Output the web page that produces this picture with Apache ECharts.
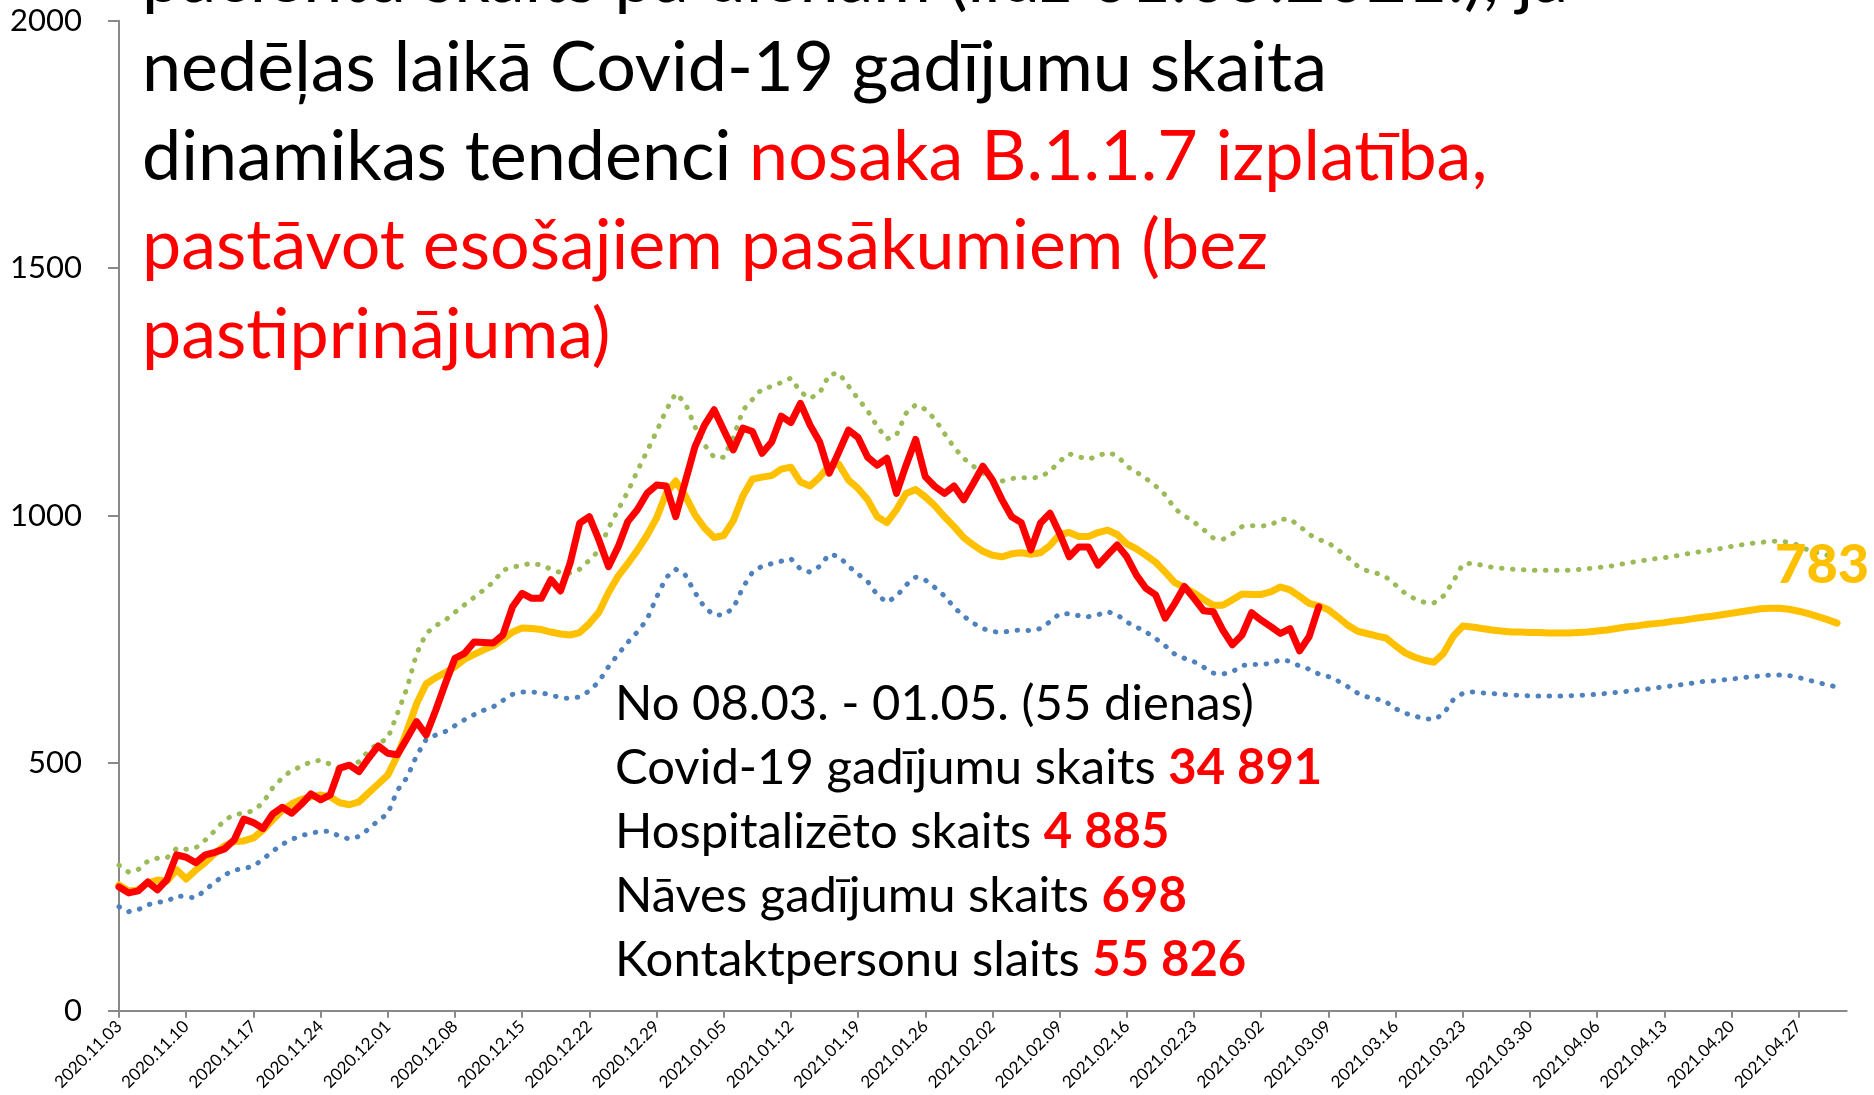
<!DOCTYPE html>
<html>
<head>
<meta charset="utf-8">
<script src="https://cdn.jsdelivr.net/npm/echarts@6.0.0/dist/echarts.min.js"></script>
<style>
html, body { margin: 0; padding: 0; background: #fff; }
#main { width: 1874px; height: 1095px; }
</style>
</head>
<body>
<div id="main"></div>
<script>
// dienas no 2020.11.03 līdz 2021.05.02
var dates = [];
(function () {
    var d = new Date(2020, 10, 3);
    for (var i = 0; i < 181; i++) {
        var m = d.getMonth() + 1, dd = d.getDate();
        dates.push(d.getFullYear() + '.' + (m < 10 ? '0' + m : m) + '.' + (dd < 10 ? '0' + dd : dd));
        d.setDate(d.getDate() + 1);
    }
})();

// faktiskie dati (sarkanā līnija)
var actual = [
    250, 238, 242, 260, 244, 265, 315, 310, 299, 315,
    320, 327, 345, 387, 380, 368, 397, 411, 399, 417,
    438, 426, 436, 490, 496, 483, 510, 535, 520, 517,
    550, 584, 557, 607, 661, 712, 722, 745, 744, 743,
    759, 816, 843, 833, 833, 871, 848, 904, 985, 998,
    951, 897, 937, 988, 1012, 1045, 1062, 1060, 998, 1069,
    1139, 1183, 1214, 1173, 1133, 1177, 1170, 1126, 1149, 1201,
    1188, 1227, 1183, 1149, 1086, 1129, 1173, 1158, 1118, 1102,
    1116, 1045, 1102, 1154, 1079, 1059, 1045, 1060, 1032, 1065,
    1100, 1072, 1032, 998, 986, 931, 985, 1005, 964, 917,
    937, 937, 900, 921, 941, 917, 880, 853, 840, 793,
    823, 857, 833, 808, 806, 769, 739, 759, 804, 789,
    776, 762, 772, 727, 756, 816
];

// modelis / prognoze (dzeltenā)
var forecast = [
    254, 242, 244, 258, 264, 262, 285, 266, 284, 300,
    318, 333, 342, 343, 349, 365, 385, 405, 418, 427,
    432, 436, 432, 420, 416, 422, 440, 458, 476, 515,
    565, 620, 660, 673, 683, 695, 710, 720, 729, 737,
    750, 765, 773, 772, 770, 765, 761, 759, 764, 782,
    805, 845, 878, 903, 930, 960, 995, 1045, 1070, 1040,
    1002, 975, 956, 960, 990, 1040, 1074, 1078, 1081, 1094,
    1098, 1068, 1060, 1078, 1102, 1104, 1072, 1055, 1032, 998,
    986, 1012, 1045, 1053, 1038, 1020, 998, 978, 956, 941,
    928, 920, 917, 923, 925, 922, 925, 940, 962, 966,
    958, 958, 966, 971, 962, 943, 933, 920, 906, 886,
    865, 855, 844, 831, 819, 819, 830, 842, 841, 841,
    846, 856, 850, 837, 823, 818, 810, 795, 779, 767,
    762, 757, 753, 737, 723, 714, 708, 704, 722, 756,
    777, 775, 772, 769, 767, 765, 765, 764, 764, 763,
    763, 763, 764, 765, 767, 769, 772, 775, 777, 780,
    782, 784, 787, 789, 792, 795, 797, 800, 803, 806,
    809, 812, 813, 813, 811, 807, 802, 796, 790, 783
];

// augšējā robeža (zaļā punktotā)
var upper = [
    294, 280, 285, 302, 308, 309, 328, 326, 329, 345,
    364, 385, 396, 399, 404, 420, 450, 470, 486, 493,
    503, 506, 498, 487, 495, 503, 525, 540, 550, 600,
    651, 721, 762, 778, 789, 805, 820, 835, 850, 866,
    890, 896, 900, 904, 900, 892, 885, 884, 892, 910,
    930, 975, 1012, 1048, 1090, 1130, 1170, 1213, 1247, 1228,
    1180, 1143, 1118, 1118, 1158, 1213, 1235, 1256, 1261, 1269,
    1278, 1250, 1237, 1248, 1285, 1288, 1262, 1236, 1212, 1180,
    1155, 1163, 1207, 1224, 1215, 1195, 1166, 1138, 1116, 1100,
    1086, 1072, 1070, 1075, 1077, 1076, 1078, 1090, 1110, 1125,
    1119, 1114, 1121, 1128, 1121, 1100, 1088, 1075, 1060, 1042,
    1014, 1000, 987, 972, 955, 952, 963, 978, 980, 979,
    981, 993, 993, 979, 962, 952, 945, 931, 916, 899,
    889, 884, 876, 860, 843, 832, 825, 824, 838, 867,
    902, 904, 900, 896, 894, 892, 891, 890, 890, 890,
    890, 890, 891, 893, 895, 897, 900, 904, 907, 910,
    913, 915, 918, 922, 925, 928, 931, 934, 938, 941,
    944, 946, 948, 949, 946, 940, 930, 925, 920, 916
];

// apakšējā robeža (zilā punktotā)
var lower = [
    210, 200, 204, 214, 219, 221, 232, 230, 228, 244,
    260, 274, 284, 287, 292, 306, 322, 336, 346, 354,
    358, 363, 362, 352, 347, 352, 367, 384, 398, 445,
    471, 515, 548, 557, 564, 576, 588, 598, 607, 614,
    627, 639, 644, 644, 642, 638, 632, 631, 634, 646,
    665, 695, 720, 744, 765, 790, 835, 875, 892, 880,
    845, 815, 799, 800, 813, 855, 886, 898, 903, 908,
    913, 892, 886, 898, 922, 918, 898, 882, 867, 840,
    825, 837, 860, 876, 870, 855, 838, 815, 797, 783,
    772, 766, 764, 768, 769, 768, 772, 786, 802, 802,
    798, 796, 800, 806, 800, 785, 775, 765, 752, 737,
    720, 712, 705, 694, 682, 680, 685, 697, 700, 699,
    702, 709, 706, 696, 690, 680, 675, 666, 655, 642,
    634, 630, 624, 610, 601, 595, 590, 588, 600, 628,
    641, 644, 642, 641, 639, 638, 637, 636, 636, 636,
    636, 636, 637, 638, 639, 641, 643, 645, 648, 649,
    652, 654, 657, 659, 662, 665, 666, 668, 670, 672,
    675, 676, 678, 678, 677, 673, 668, 663, 658, 654
];

var yTicks = [0, 500, 1000, 1500, 2000];

var font = 'Lato, "Open Sans", sans-serif';
var axisGray = '#898989';

// pēdējam prognozes punktam - vērtības etiķete
var forecastData = forecast.map(function (v, i) {
    if (i === forecast.length - 1) {
        return {
            value: v,
            symbol: 'circle',
            symbolSize: 1,
            itemStyle: { color: 'rgba(0,0,0,0)', borderWidth: 0 },
            label: {
                show: true, position: 'top', distance: 0, offset: [-15, -30],
                formatter: '{b|{c}}',
                rich: {
                    b: { color: '#FFC000', fontFamily: 'Lato', fontWeight: 900, fontSize: 54 }
                }
            }
        };
    }
    return v;
});

var myChart = echarts.init(document.getElementById('main'), null, { renderer: 'canvas' });

var titleBig = 70;
var boxSize = 49;

var option = {
    backgroundColor: '#ffffff',
    animation: false,
    grid: { left: 119, top: 20.7, width: 1727.7, height: 990, containLabel: false },
    xAxis: {
        type: 'category',
        data: dates,
        boundaryGap: false,
        axisLine: { show: true, lineStyle: { color: axisGray, width: 2 } },
        axisTick: { show: true, interval: 6, length: 7, lineStyle: { color: axisGray, width: 2 } },
        axisLabel: { interval: 6, rotate: 45, margin: 13, color: '#000', fontFamily: font, fontSize: 17 },
        splitLine: { show: false }
    },
    yAxis: {
        type: 'value',
        min: yTicks[0],
        max: yTicks[yTicks.length - 1],
        interval: 500,
        axisLine: { show: true, lineStyle: { color: axisGray, width: 2 } },
        axisTick: { show: true, length: 11, lineStyle: { color: axisGray, width: 2 } },
        axisLabel: {
            margin: 37, color: '#000', fontFamily: font, fontSize: 31,
            formatter: function (v) { return String(v); }
        },
        splitLine: { show: false }
    },
    series: [{
        name: 'augšējā',
        type: 'line',
        data: upper,
        symbol: 'none',
        lineStyle: { color: '#9BBB59', width: 5, type: [0.5, 10.5], cap: 'round' },
        z: 2
    }, {
        name: 'apakšējā',
        type: 'line',
        data: lower,
        symbol: 'none',
        lineStyle: { color: '#4F81BD', width: 5, type: [0.5, 10.5], cap: 'round' },
        z: 2
    }, {
        name: 'prognoze',
        type: 'line',
        data: forecastData,
        symbol: 'none',
        showSymbol: true,
        showAllSymbol: true,
        lineStyle: { color: '#FFC000', width: 7, cap: 'round', join: 'round' },
        z: 3
    }, {
        name: 'fakts',
        type: 'line',
        data: actual,
        symbol: 'none',
        lineStyle: { color: '#FF0000', width: 7, cap: 'round', join: 'round' },
        z: 4
    }],
    graphic: []
};

// virsraksta teksts
var titleLines = [
    [['k', 'pacientu skaits pa dienām (līdz 01.05.2021.), ja']],
    [['k', 'nedēļas laikā Covid-19 gadījumu skaita']],
    [['k', 'dinamikas tendenci '], ['r', 'nosaka B.1.1.7 izplatība,']],
    [['r', 'pastāvot esošajiem pasākumiem (bez']],
    [['r', 'pastiprinājuma)']]
];
var titleBase = [2, 91, 180, 269, 358];

titleLines.forEach(function (parts, i) {
    option.graphic.push({
        type: 'text',
        z: 100,
        style: {
            x: 142,
            y: titleBase[i] - 0.32 * titleBig,
            text: parts.map(function (p) { return '{' + p[0] + '|' + p[1] + '}'; }).join(''),
            verticalAlign: 'middle',
            textVerticalAlign: 'middle',
            rich: {
                k: { fontFamily: font, fontSize: titleBig, fill: '#000000', color: '#000000' },
                r: { fontFamily: font, fontSize: titleBig, fill: '#FF0000', color: '#FF0000' }
            }
        }
    });
});

// teksta bloks
var boxLines = [
    ['No 08.03. - 01.05. (55 dienas)', ''],
    ['Covid-19 gadījumu skaits ', '34 891'],
    ['Hospitalizēto skaits ', '4 885'],
    ['Nāves gadījumu skaits ', '698'],
    ['Kontaktpersonu slaits ', '55 826']
];
var boxBase = [720, 784, 848, 912, 976];

boxLines.forEach(function (p, i) {
    option.graphic.push({
        type: 'text',
        z: 100,
        style: {
            x: 615,
            y: boxBase[i] - 0.32 * boxSize,
            text: '{k|' + p[0] + '}' + (p[1] ? '{r|' + p[1] + '}' : ''),
            verticalAlign: 'middle',
            textVerticalAlign: 'middle',
            rich: {
                k: { fontFamily: font, fontSize: boxSize, fill: '#000000', color: '#000000' },
                r: { fontFamily: font, fontSize: boxSize, fill: '#FF0000', color: '#FF0000', fontWeight: 'bold' }
            }
        }
    });
});

myChart.setOption(option);
</script>
</body>
</html>
